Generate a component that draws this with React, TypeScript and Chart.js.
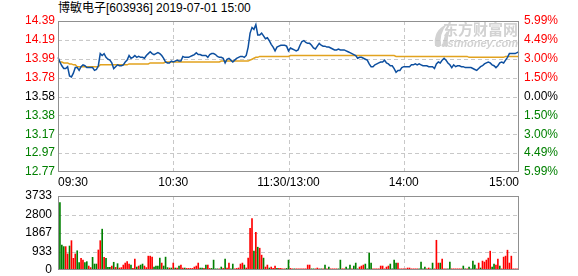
import React, { useEffect, useRef } from 'react';
import { Chart, registerables } from 'chart.js';
Chart.register(...registerables);

const TITLE = '博敏电子[603936] 2019-07-01 15:00';
const PRE_CLOSE = 13.58;
const PRICE_MIN = 12.77;
const PRICE_MAX = 14.39;
const VOL_MAX = 3733;

const priceTickLabels = ['14.39', '14.19', '13.99', '13.78', '13.58', '13.38', '13.17', '12.97', '12.77'];
const pctTickLabels = ['5.99%', '4.49%', '3.00%', '1.50%', '0.00%', '1.50%', '3.00%', '4.49%', '5.99%'];
const volTickLabels = ['3733', '2800', '1867', '933', '0'];
const xTickTimes = ['09:30', '10:30', '11:30', '14:00', '15:00'];
const xTickLabels = ['09:30', '10:30', '11:30/13:00', '14:00', '15:00'];
const xGridTimes = ['10:30', '11:30', '14:00'];

// minute categories 09:30..11:30, 13:01..15:00 (241)
const minuteLabels: string[] = (() => {
  const out: string[] = [];
  const f = (t: number) => `${String(Math.floor(t / 60)).padStart(2, '0')}:${String(t % 60).padStart(2, '0')}`;
  for (let t = 9 * 60 + 30; t <= 11 * 60 + 30; t++) out.push(f(t));
  for (let t = 13 * 60 + 1; t <= 15 * 60; t++) out.push(f(t));
  return out;
})();

const prices = [
  14.00, 13.95, 13.91, 13.88, 13.88, 13.90, 13.80, 13.79, 13.83, 13.89,
  13.89, 13.86, 13.90, 13.92, 13.91, 13.89, 13.89, 13.89, 13.89, 13.86,
  13.87, 13.91, 14.04, 14.02, 14.04, 14.00, 13.98, 13.97, 13.94, 13.88,
  13.90, 13.92, 13.91, 13.91, 13.92, 13.95, 13.97, 14.02, 13.99, 14.00,
  14.02, 14.00, 14.01, 14.00, 14.00, 13.99, 14.02, 14.04, 14.06, 14.04,
  14.03, 14.04, 14.05, 14.04, 14.02, 13.99, 13.95, 13.94, 13.94, 13.96,
  13.95,
  13.96, 13.97, 13.96, 13.96, 14.01, 14.00, 14.00, 14.00, 14.01, 14.02,
  14.03, 14.05, 14.03, 14.03, 14.02, 14.02, 14.02, 14.00, 14.03, 14.04,
  14.04, 14.03, 14.01, 14.00, 14.00, 13.99, 13.94, 13.98, 13.99, 13.97,
  13.95, 13.97, 13.99, 14.00, 14.01, 14.01, 14.00, 14.02, 14.11, 14.26,
  14.32, 14.30, 14.35, 14.24, 14.24, 14.26, 14.23, 14.20, 14.21, 14.18,
  14.14, 14.11, 14.07, 14.11, 14.12, 14.13, 14.13, 14.13, 14.12, 14.07,
  14.10,
  14.09, 14.08, 14.07, 14.08, 14.13, 14.17, 14.18, 14.16, 14.15, 14.15,
  14.13, 14.10, 14.09, 14.12, 14.15, 14.13, 14.12, 14.12, 14.11, 14.11,
  14.10, 14.09, 14.08, 14.08, 14.09, 14.08, 14.08, 14.08, 14.07, 14.06,
  14.05, 14.04, 14.03, 14.02, 13.99, 14.00, 14.00, 13.99, 13.98, 13.97,
  13.93, 13.90, 13.90, 13.92, 13.93, 13.94, 13.95, 13.95, 13.97, 13.94,
  13.93, 13.91, 13.91, 13.88, 13.84, 13.86, 13.86, 13.89, 13.90, 13.90,
  13.90, 13.90, 13.92, 13.92, 13.93, 13.92, 13.93, 13.92, 13.91, 13.91,
  13.91, 13.90, 13.90, 13.90, 13.88, 13.93, 13.95, 13.94, 13.97, 13.99,
  13.97, 13.94, 13.92, 13.89, 13.92, 13.90, 13.91, 13.91, 13.90, 13.90,
  13.89, 13.89, 13.89, 13.89, 13.88, 13.87, 13.86, 13.88, 13.90, 13.91,
  13.93, 13.94, 13.95, 13.94, 13.92, 13.91, 13.89, 13.91, 13.94, 13.95,
  13.94, 13.97, 14.00, 14.04, 14.04, 14.04, 14.04, 14.05, 14.06,
];

const avgPrices = [
  13.97, 13.95, 13.95, 13.94, 13.94, 13.94, 13.93, 13.93, 13.92, 13.92,
  13.90, 13.90, 13.90, 13.90, 13.90, 13.90, 13.90, 13.90, 13.90, 13.90,
  13.90, 13.90, 13.92, 13.92, 13.92, 13.92, 13.92, 13.92, 13.92, 13.92,
  13.92, 13.92, 13.92, 13.92, 13.92, 13.92, 13.92, 13.93, 13.93, 13.93,
  13.93, 13.93, 13.93, 13.93, 13.93, 13.93, 13.93, 13.93, 13.94, 13.94,
  13.94, 13.94, 13.94, 13.94, 13.94, 13.94, 13.95, 13.95, 13.95, 13.95,
  13.95, 13.95, 13.95, 13.95, 13.95, 13.95, 13.95, 13.95, 13.95, 13.95,
  13.95, 13.95, 13.95, 13.95, 13.95, 13.95, 13.95, 13.95, 13.95, 13.95,
  13.95, 13.95, 13.95, 13.95, 13.95, 13.96, 13.96, 13.96, 13.96, 13.96,
  13.96, 13.96, 13.96, 13.96, 13.96, 13.96, 13.96, 13.96, 13.96, 13.96,
  13.97, 13.98, 13.99, 14.00, 14.00, 14.01, 14.01, 14.01, 14.01, 14.01,
  14.01, 14.01, 14.01, 14.01, 14.01, 14.01, 14.01, 14.01, 14.01, 14.01,
  14.01, 14.02, 14.02, 14.02, 14.02, 14.02, 14.02, 14.02, 14.02, 14.02,
  14.02, 14.02, 14.02, 14.02, 14.02, 14.02, 14.02, 14.02, 14.02, 14.02,
  14.02, 14.02, 14.02, 14.02, 14.02, 14.02, 14.02, 14.02, 14.02, 14.02,
  14.02, 14.02, 14.02, 14.02, 14.02, 14.02, 14.02, 14.02, 14.02, 14.02,
  14.02, 14.02, 14.02, 14.02, 14.02, 14.02, 14.02, 14.02, 14.02, 14.02,
  14.02, 14.02, 14.02, 14.02, 14.02, 14.02, 14.01, 14.01, 14.01, 14.01,
  14.01, 14.01, 14.01, 14.01, 14.01, 14.01, 14.01, 14.01, 14.01, 14.01,
  14.01, 14.01, 14.01, 14.01, 14.01, 14.01, 14.01, 14.01, 14.01, 14.01,
  14.01, 14.01, 14.01, 14.01, 14.01, 14.01, 14.01, 14.01, 14.01, 14.01,
  14.01, 14.01, 14.01, 14.01, 14.00, 14.00, 14.00, 14.00, 14.00, 14.00,
  14.00, 14.00, 14.00, 14.00, 14.00, 14.00, 14.00, 14.00, 14.00, 14.00,
  14.00, 14.00, 14.00, 14.01, 14.01, 14.01, 14.01, 14.01, 14.01, 14.01,
  14.01,
];

// volumes for 09:31 .. 15:00 (240 minutes)
const volumes = [
  3400, 1260, 1180, 1180, 810, 1210, 1480, 590, 810, 970,
  370, 590, 500, 370, 420, 200, 120, 640, 300, 300,
  1010, 1480, 2060, 640, 590, 130, 130, 200, 390, 130,
  320, 100, 120, 250, 350, 420, 300, 250, 80, 550,
  150, 200, 250, 300, 200, 120, 700, 700, 650, 150,
  200, 200, 600, 350, 200, 650, 120, 100, 100, 350,
  100, 100, 200, 250, 100, 100, 80, 80, 80, 80,
  150, 200, 350, 100, 100, 80, 250, 250, 80, 80,
  500, 60, 60, 60, 150, 80, 550, 100, 350, 60,
  300, 60, 80, 100, 300, 350, 250, 100, 600, 2100,
  2600, 950, 1900, 1150, 1100, 750, 600, 150, 250, 100,
  150, 80, 200, 80, 80, 80, 60, 60, 80, 500,
  80, 60, 60, 60, 60, 60, 60, 60, 60, 250,
  250, 60, 60, 60, 100, 60, 60, 60, 250, 60,
  150, 60, 60, 60, 60, 60, 500, 60, 60, 150,
  60, 250, 60, 200, 350, 60, 150, 200, 250, 300,
  60, 850, 350, 60, 60, 60, 60, 200, 200, 60,
  150, 200, 300, 60, 500, 350, 350, 60, 60, 60,
  60, 100, 100, 60, 60, 60, 60, 60, 400, 60,
  150, 60, 100, 60, 350, 60, 1500, 350, 350, 550,
  60, 60, 60, 400, 60, 60, 60, 60, 60, 60,
  200, 60, 60, 150, 60, 450, 250, 60, 350, 100,
  450, 400, 500, 600, 950, 150, 300, 250, 550, 200,
  60, 650, 700, 1000, 350, 700, 60, 60, 60, 1900,
];

// 1 = price up (red), 0 = price down (green)
const volUp = [
  0, 0, 0, 1, 1, 0, 1, 1, 1, 0,
  0, 1, 1, 0, 0, 1, 1, 0, 0, 0,
  1, 1, 0, 1, 0, 0, 0, 1, 0, 1,
  0, 1, 1, 1, 1, 1, 1, 0, 1, 1,
  0, 1, 0, 0, 1, 1, 1, 1, 1, 0,
  0, 0, 0, 1, 0, 0, 0, 1, 0, 1,
  0, 1, 0, 1, 1, 0, 1, 1, 1, 1,
  1, 1, 1, 0, 0, 1, 0, 1, 1, 0,
  0, 0, 0, 1, 0, 1, 0, 1, 1, 0,
  0, 1, 1, 1, 1, 1, 0, 1, 1, 1,
  1, 0, 1, 0, 1, 1, 0, 1, 1, 0,
  1, 1, 1, 0, 1, 1, 1, 1, 0, 0,
  1, 1, 0, 1, 1, 1, 1, 1, 1, 1,
  1, 0, 0, 1, 1, 1, 0, 1, 0, 1,
  0, 1, 1, 1, 1, 0, 0, 1, 1, 0,
  0, 0, 1, 0, 0, 0, 1, 1, 1, 0,
  0, 0, 0, 1, 1, 1, 1, 1, 1, 1,
  1, 1, 0, 0, 0, 0, 1, 1, 1, 1,
  1, 1, 1, 1, 1, 1, 1, 0, 0, 0,
  0, 1, 1, 0, 0, 1, 1, 1, 0, 1,
  1, 1, 0, 0, 1, 1, 1, 1, 1, 1,
  0, 0, 1, 0, 0, 0, 0, 1, 1, 0,
  1, 1, 1, 1, 1, 0, 0, 1, 1, 0,
  1, 1, 1, 1, 1, 1, 1, 1, 1, 1,
];

const FONT = '"Liberation Sans", "Noto Sans CJK SC", Arial, sans-serif';
const RED = '#ff0000';
const GREEN = '#008000';
const GRID = '#c8c8c8';
const FRAME = '#909090';

const evenTicks = (labelsTopDown: string[]) => (scale: any) => {
  const n = labelsTopDown.length;
  const { min, max } = scale;
  scale.ticks = labelsTopDown.map((_, k) => ({ value: min + ((max - min) * k) / (n - 1) }));
};
const labelAt = (labelsTopDown: string[]) => (_v: any, idx: number) =>
  labelsTopDown[labelsTopDown.length - 1 - idx];

const priceColor = (ctx: any) => {
  const v = ctx.tick ? ctx.tick.value : PRE_CLOSE;
  if (Math.abs(v - PRE_CLOSE) < 0.01) return '#000000';
  return v > PRE_CLOSE ? RED : GREEN;
};

const line = (ctx: CanvasRenderingContext2D, x1: number, y1: number, x2: number, y2: number) => {
  ctx.beginPath();
  ctx.moveTo(x1, y1);
  ctx.lineTo(x2, y2);
  ctx.stroke();
};

const makePanelPlugin = (withLabels: boolean) => ({
  id: 'panel',
  beforeDatasetsDraw(chart: any) {
    const { ctx, chartArea: a, scales } = chart;
    const ys = scales.y;
    const xs = scales.x;
    ctx.save();
    if (withLabels) {
      // watermark
      ctx.fillStyle = '#d2d2d2';
      ctx.textAlign = 'right';
      ctx.textBaseline = 'top';
      ctx.font = 'bold 15px "Noto Sans CJK SC", sans-serif';
      ctx.fillText('东方财富网', a.right - 1, a.top + 1);
      ctx.font = 'italic bold 11px "Liberation Sans", Arial, sans-serif';
      ctx.fillText('eastmoney.com', a.right - 1, a.top + 17);
      const ix = a.right - 88;
      const iy = a.top + 3;
      ctx.beginPath();
      ctx.moveTo(ix + 4, iy + 22);
      ctx.quadraticCurveTo(ix + 2, iy + 6, ix + 16, iy);
      ctx.quadraticCurveTo(ix + 8, iy + 10, ix + 10, iy + 22);
      ctx.closePath();
      ctx.fill();
      ctx.beginPath();
      ctx.moveTo(ix + 12, iy + 22);
      ctx.quadraticCurveTo(ix + 12, iy + 10, ix + 20, iy + 4);
      ctx.quadraticCurveTo(ix + 16, iy + 12, ix + 17, iy + 22);
      ctx.closePath();
      ctx.fill();
    }
    ctx.strokeStyle = GRID;
    ctx.lineWidth = 1;
    ctx.setLineDash([4, 3]);
    ys.ticks.forEach((t: any) => {
      const y = Math.round(ys.getPixelForValue(t.value)) + 0.5;
      if (y <= a.top + 1.5 || y >= a.bottom - 1.5) return;
      line(ctx, a.left, y, a.right, y);
    });
    xGridTimes.forEach((tm) => {
      const x = Math.round(xs.getPixelForValue(minuteLabels.indexOf(tm))) + 0.5;
      line(ctx, x, a.top, x, a.bottom);
    });
    ctx.restore();
  },
  afterDatasetsDraw(chart: any) {
    const { ctx, chartArea: a, scales } = chart;
    ctx.save();
    ctx.strokeStyle = FRAME;
    ctx.lineWidth = 1;
    ctx.setLineDash([]);
    ctx.strokeRect(Math.round(a.left) + 0.5, Math.round(a.top) + 0.5, Math.round(a.right - a.left) - 1, Math.round(a.bottom - a.top) - 1);
    if (withLabels) {
      const xs = scales.x;
      ctx.fillStyle = '#000000';
      ctx.font = `12px ${FONT}`;
      ctx.textBaseline = 'middle';
      xTickTimes.forEach((tm, k) => {
        const x = xs.getPixelForValue(minuteLabels.indexOf(tm));
        ctx.textAlign = k === 0 ? 'left' : k === xTickTimes.length - 1 ? 'right' : 'center';
        ctx.fillText(xTickLabels[k], x, a.bottom + 10.5);
      });
    }
    ctx.restore();
  },
});

export default function App() {
  const priceRef = useRef<HTMLCanvasElement>(null);
  const volRef = useRef<HTMLCanvasElement>(null);

  useEffect(() => {
    Chart.defaults.font.family = FONT;
    Chart.defaults.font.size = 12;

    const pc = new Chart(priceRef.current as HTMLCanvasElement, {
      type: 'line',
      data: {
        labels: minuteLabels,
        datasets: [
          { data: prices, borderColor: '#0d4f9f', borderWidth: 1.5, pointRadius: 0, tension: 0, yAxisID: 'y' },
          { data: avgPrices, borderColor: '#e2a21e', borderWidth: 1.5, pointRadius: 0, tension: 0, yAxisID: 'y' },
        ],
      },
      options: {
        responsive: false,
        animation: false,
        events: [],
        layout: { padding: { top: 21, bottom: 20, left: 0, right: 0 } },
        plugins: { legend: { display: false }, tooltip: { enabled: false } },
        scales: {
          x: { type: 'category', display: false, offset: false },
          y: {
            position: 'left',
            min: PRICE_MIN,
            max: PRICE_MAX,
            grid: { display: false, drawTicks: false },
            border: { display: false },
            afterBuildTicks: evenTicks(priceTickLabels),
            afterFit: (s: any) => { s.width = 58; },
            ticks: { autoSkip: false, padding: 3, color: priceColor, font: { size: 12, family: FONT }, callback: labelAt(priceTickLabels) },
          },
          y2: {
            position: 'right',
            display: true,
            min: PRICE_MIN,
            max: PRICE_MAX,
            grid: { display: false, drawTicks: false },
            border: { display: false },
            afterBuildTicks: evenTicks(pctTickLabels),
            afterFit: (s: any) => { s.width = 59; },
            ticks: { autoSkip: false, padding: 5, color: priceColor, font: { size: 12, family: FONT }, callback: labelAt(pctTickLabels) },
          },
        },
      } as any,
      plugins: [makePanelPlugin(true)],
    });

    const vc = new Chart(volRef.current as HTMLCanvasElement, {
      type: 'bar',
      data: {
        labels: minuteLabels,
        datasets: [
          {
            data: [null, ...volumes],
            backgroundColor: ['rgba(0,0,0,0)', ...volUp.map((u) => (u ? RED : GREEN))],
            borderWidth: 0,
            barThickness: 1,
          },
        ],
      },
      options: {
        responsive: false,
        animation: false,
        events: [],
        layout: { padding: { top: 20, bottom: 16, left: 0, right: 59 } },
        plugins: { legend: { display: false }, tooltip: { enabled: false } },
        scales: {
          x: { type: 'category', display: false, offset: false },
          y: {
            position: 'left',
            min: 0,
            max: VOL_MAX,
            grid: { display: false, drawTicks: false },
            border: { display: false },
            afterBuildTicks: evenTicks(volTickLabels),
            afterFit: (s: any) => { s.width = 58; },
            ticks: { autoSkip: false, padding: 6, color: '#000000', font: { size: 12, family: FONT }, callback: labelAt(volTickLabels) },
          },
        },
      } as any,
      plugins: [makePanelPlugin(false)],
    });

    return () => {
      pc.destroy();
      vc.destroy();
    };
  }, []);

  return (
    <div style={{ position: 'fixed', left: 0, top: 0, width: 578, height: 276, overflow: 'hidden', background: '#ffffff' }}>
      <div
        style={{
          position: 'absolute',
          left: 58,
          top: 1,
          font: `12px ${FONT}`,
          lineHeight: '14px',
          color: '#000000',
          whiteSpace: 'nowrap',
        }}
      >
        {TITLE}
      </div>
      <canvas ref={priceRef} width={578} height={192} style={{ position: 'absolute', left: 0, top: 0 }} />
      <canvas ref={volRef} width={578} height={110} style={{ position: 'absolute', left: 0, top: 176 }} />
    </div>
  );
}
